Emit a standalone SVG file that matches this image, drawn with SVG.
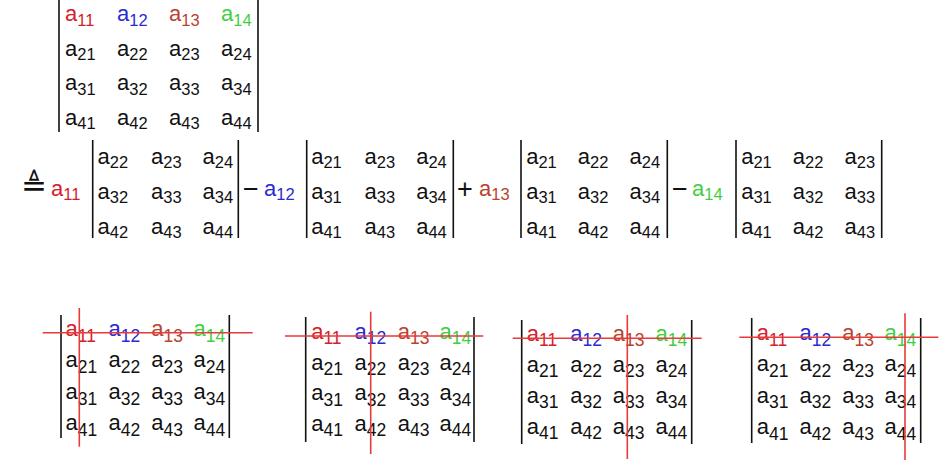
<svg xmlns="http://www.w3.org/2000/svg" width="943" height="472" viewBox="0 0 943 472">
<style>
text{font-family:"Liberation Sans","DejaVu Sans",sans-serif;font-size:22px;fill:#111}
.s{font-size:16.5px}
.b .s{font-size:17.5px}
.op{font-size:27px}
.r{fill:#d4212b}.u{fill:#2a2ad0}.o{fill:#b8432f}.g{fill:#3fcf3f}
.bar{stroke:#111;stroke-width:1.6}
.x{stroke:#e83a3a;stroke-width:1.6}
</style>
<rect width="943" height="472" fill="#fff"/>

<g id="top">
<line class="bar" x1="59" y1="0" x2="59" y2="132"/><line class="bar" x1="258" y1="0" x2="258" y2="132"/>
<text x="65" y="21" class="r">a<tspan class="s r" dy="4.5">11</tspan></text>
<text x="117" y="21" class="u">a<tspan class="s u" dy="4.5">12</tspan></text>
<text x="169" y="21" class="o">a<tspan class="s o" dy="4.5">13</tspan></text>
<text x="221" y="21" class="g">a<tspan class="s g" dy="4.5">14</tspan></text>
<text x="65" y="55.5">a<tspan class="s" dy="4.5">21</tspan></text>
<text x="117" y="55.5">a<tspan class="s" dy="4.5">22</tspan></text>
<text x="169" y="55.5">a<tspan class="s" dy="4.5">23</tspan></text>
<text x="221" y="55.5">a<tspan class="s" dy="4.5">24</tspan></text>
<text x="65" y="90">a<tspan class="s" dy="4.5">31</tspan></text>
<text x="117" y="90">a<tspan class="s" dy="4.5">32</tspan></text>
<text x="169" y="90">a<tspan class="s" dy="4.5">33</tspan></text>
<text x="221" y="90">a<tspan class="s" dy="4.5">34</tspan></text>
<text x="65" y="124.5">a<tspan class="s" dy="4.5">41</tspan></text>
<text x="117" y="124.5">a<tspan class="s" dy="4.5">42</tspan></text>
<text x="169" y="124.5">a<tspan class="s" dy="4.5">43</tspan></text>
<text x="221" y="124.5">a<tspan class="s" dy="4.5">44</tspan></text>
</g>

<g id="expansion">
<text x="21" y="196" style="font-family:'DejaVu Sans',sans-serif;font-size:31px;font-weight:200">≜</text>
<text x="51" y="196" class="r">a<tspan class="s r" dy="3.5">11</tspan></text>
<text x="243" y="198" class="op">−</text>
<text x="264" y="196" class="u">a<tspan class="s u" dy="3.5">12</tspan></text>
<text x="457" y="198" class="op">+</text>
<text x="479" y="196" class="o">a<tspan class="s o" dy="3.5">13</tspan></text>
<text x="672" y="198" class="op">−</text>
<text x="692" y="196" class="g">a<tspan class="s g" dy="3.5">14</tspan></text>
</g>

<g id="minor11">
<line class="bar" x1="92.7" y1="140" x2="92.7" y2="238"/><line class="bar" x1="238.3" y1="140" x2="238.3" y2="238"/>
<text x="97.5" y="164">a<tspan class="s" dy="3.5">22</tspan></text>
<text x="151" y="164">a<tspan class="s" dy="3.5">23</tspan></text>
<text x="202.5" y="164">a<tspan class="s" dy="3.5">24</tspan></text>
<text x="97.5" y="199">a<tspan class="s" dy="3.5">32</tspan></text>
<text x="151" y="199">a<tspan class="s" dy="3.5">33</tspan></text>
<text x="202.5" y="199">a<tspan class="s" dy="3.5">34</tspan></text>
<text x="97.5" y="234">a<tspan class="s" dy="3.5">42</tspan></text>
<text x="151" y="234">a<tspan class="s" dy="3.5">43</tspan></text>
<text x="202.5" y="234">a<tspan class="s" dy="3.5">44</tspan></text>
</g>

<g id="minor12">
<line class="bar" x1="306.7" y1="140" x2="306.7" y2="238"/><line class="bar" x1="453.3" y1="140" x2="453.3" y2="238"/>
<text x="311.2" y="164">a<tspan class="s" dy="3.5">21</tspan></text>
<text x="364.5" y="164">a<tspan class="s" dy="3.5">23</tspan></text>
<text x="416.2" y="164">a<tspan class="s" dy="3.5">24</tspan></text>
<text x="311.2" y="199">a<tspan class="s" dy="3.5">31</tspan></text>
<text x="364.5" y="199">a<tspan class="s" dy="3.5">33</tspan></text>
<text x="416.2" y="199">a<tspan class="s" dy="3.5">34</tspan></text>
<text x="311.2" y="234">a<tspan class="s" dy="3.5">41</tspan></text>
<text x="364.5" y="234">a<tspan class="s" dy="3.5">43</tspan></text>
<text x="416.2" y="234">a<tspan class="s" dy="3.5">44</tspan></text>
</g>

<g id="minor13">
<line class="bar" x1="521" y1="140" x2="521" y2="238"/><line class="bar" x1="667.3" y1="140" x2="667.3" y2="238"/>
<text x="526.2" y="164">a<tspan class="s" dy="3.5">21</tspan></text>
<text x="577.8" y="164">a<tspan class="s" dy="3.5">22</tspan></text>
<text x="629.5" y="164">a<tspan class="s" dy="3.5">24</tspan></text>
<text x="526.2" y="199">a<tspan class="s" dy="3.5">31</tspan></text>
<text x="577.8" y="199">a<tspan class="s" dy="3.5">32</tspan></text>
<text x="629.5" y="199">a<tspan class="s" dy="3.5">34</tspan></text>
<text x="526.2" y="234">a<tspan class="s" dy="3.5">41</tspan></text>
<text x="577.8" y="234">a<tspan class="s" dy="3.5">42</tspan></text>
<text x="629.5" y="234">a<tspan class="s" dy="3.5">44</tspan></text>
</g>

<g id="minor14">
<line class="bar" x1="736" y1="140" x2="736" y2="238"/><line class="bar" x1="881.7" y1="140" x2="881.7" y2="238"/>
<text x="741.2" y="164">a<tspan class="s" dy="3.5">21</tspan></text>
<text x="792.8" y="164">a<tspan class="s" dy="3.5">22</tspan></text>
<text x="844.5" y="164">a<tspan class="s" dy="3.5">23</tspan></text>
<text x="741.2" y="199">a<tspan class="s" dy="3.5">31</tspan></text>
<text x="792.8" y="199">a<tspan class="s" dy="3.5">32</tspan></text>
<text x="844.5" y="199">a<tspan class="s" dy="3.5">33</tspan></text>
<text x="741.2" y="234">a<tspan class="s" dy="3.5">41</tspan></text>
<text x="792.8" y="234">a<tspan class="s" dy="3.5">42</tspan></text>
<text x="844.5" y="234">a<tspan class="s" dy="3.5">43</tspan></text>
</g>

<g id="strike1" class="b">
<line class="bar" x1="61" y1="315" x2="61" y2="438"/><line class="bar" x1="229.3" y1="315" x2="229.3" y2="438"/>
<text x="65.5" y="336" class="r">a<tspan class="s r" dy="5.5">11</tspan></text>
<text x="108.5" y="336" class="u">a<tspan class="s u" dy="5.5">12</tspan></text>
<text x="151.2" y="336" class="o">a<tspan class="s o" dy="5.5">13</tspan></text>
<text x="193.5" y="336" class="g">a<tspan class="s g" dy="5.5">14</tspan></text>
<text x="65.5" y="367">a<tspan class="s" dy="5.5">21</tspan></text>
<text x="108.5" y="367">a<tspan class="s" dy="5.5">22</tspan></text>
<text x="151.2" y="367">a<tspan class="s" dy="5.5">23</tspan></text>
<text x="193.5" y="367">a<tspan class="s" dy="5.5">24</tspan></text>
<text x="65.5" y="399">a<tspan class="s" dy="5.5">31</tspan></text>
<text x="108.5" y="399">a<tspan class="s" dy="5.5">32</tspan></text>
<text x="151.2" y="399">a<tspan class="s" dy="5.5">33</tspan></text>
<text x="193.5" y="399">a<tspan class="s" dy="5.5">34</tspan></text>
<text x="65.5" y="430">a<tspan class="s" dy="5.5">41</tspan></text>
<text x="108.5" y="430">a<tspan class="s" dy="5.5">42</tspan></text>
<text x="151.2" y="430">a<tspan class="s" dy="5.5">43</tspan></text>
<text x="193.5" y="430">a<tspan class="s" dy="5.5">44</tspan></text>
</g>

<g id="strike2" class="b">
<line class="bar" x1="305.7" y1="317" x2="305.7" y2="442"/><line class="bar" x1="474" y1="317" x2="474" y2="442"/>
<text x="311.2" y="338.5" class="r">a<tspan class="s r" dy="5.5">11</tspan></text>
<text x="354.5" y="338.5" class="u">a<tspan class="s u" dy="5.5">12</tspan></text>
<text x="397.8" y="338.5" class="o">a<tspan class="s o" dy="5.5">13</tspan></text>
<text x="439.5" y="338.5" class="g">a<tspan class="s g" dy="5.5">14</tspan></text>
<text x="311.2" y="369.5">a<tspan class="s" dy="5.5">21</tspan></text>
<text x="354.5" y="369.5">a<tspan class="s" dy="5.5">22</tspan></text>
<text x="397.8" y="369.5">a<tspan class="s" dy="5.5">23</tspan></text>
<text x="439.5" y="369.5">a<tspan class="s" dy="5.5">24</tspan></text>
<text x="311.2" y="400">a<tspan class="s" dy="5.5">31</tspan></text>
<text x="354.5" y="400">a<tspan class="s" dy="5.5">32</tspan></text>
<text x="397.8" y="400">a<tspan class="s" dy="5.5">33</tspan></text>
<text x="439.5" y="400">a<tspan class="s" dy="5.5">34</tspan></text>
<text x="311.2" y="430.5">a<tspan class="s" dy="5.5">41</tspan></text>
<text x="354.5" y="430.5">a<tspan class="s" dy="5.5">42</tspan></text>
<text x="397.8" y="430.5">a<tspan class="s" dy="5.5">43</tspan></text>
<text x="439.5" y="430.5">a<tspan class="s" dy="5.5">44</tspan></text>
</g>

<g id="strike3" class="b">
<line class="bar" x1="521.7" y1="320" x2="521.7" y2="444"/><line class="bar" x1="691.7" y1="320" x2="691.7" y2="444"/>
<text x="526.8" y="340.5" class="r">a<tspan class="s r" dy="5.5">11</tspan></text>
<text x="570.2" y="340.5" class="u">a<tspan class="s u" dy="5.5">12</tspan></text>
<text x="612.8" y="340.5" class="o">a<tspan class="s o" dy="5.5">13</tspan></text>
<text x="655.5" y="340.5" class="g">a<tspan class="s g" dy="5.5">14</tspan></text>
<text x="526.8" y="371.5">a<tspan class="s" dy="5.5">21</tspan></text>
<text x="570.2" y="371.5">a<tspan class="s" dy="5.5">22</tspan></text>
<text x="612.8" y="371.5">a<tspan class="s" dy="5.5">23</tspan></text>
<text x="655.5" y="371.5">a<tspan class="s" dy="5.5">24</tspan></text>
<text x="526.8" y="402.5">a<tspan class="s" dy="5.5">31</tspan></text>
<text x="570.2" y="402.5">a<tspan class="s" dy="5.5">32</tspan></text>
<text x="612.8" y="402.5">a<tspan class="s" dy="5.5">33</tspan></text>
<text x="655.5" y="402.5">a<tspan class="s" dy="5.5">34</tspan></text>
<text x="526.8" y="433.5">a<tspan class="s" dy="5.5">41</tspan></text>
<text x="570.2" y="433.5">a<tspan class="s" dy="5.5">42</tspan></text>
<text x="612.8" y="433.5">a<tspan class="s" dy="5.5">43</tspan></text>
<text x="655.5" y="433.5">a<tspan class="s" dy="5.5">44</tspan></text>
</g>

<g id="strike4" class="b">
<line class="bar" x1="751.7" y1="318" x2="751.7" y2="443"/><line class="bar" x1="920.7" y1="318" x2="920.7" y2="443"/>
<text x="756.8" y="340" class="r">a<tspan class="s r" dy="5.5">11</tspan></text>
<text x="799.5" y="340" class="u">a<tspan class="s u" dy="5.5">12</tspan></text>
<text x="842.2" y="340" class="o">a<tspan class="s o" dy="5.5">13</tspan></text>
<text x="884.5" y="340" class="g">a<tspan class="s g" dy="5.5">14</tspan></text>
<text x="756.8" y="371">a<tspan class="s" dy="5.5">21</tspan></text>
<text x="799.5" y="371">a<tspan class="s" dy="5.5">22</tspan></text>
<text x="842.2" y="371">a<tspan class="s" dy="5.5">23</tspan></text>
<text x="884.5" y="371">a<tspan class="s" dy="5.5">24</tspan></text>
<text x="756.8" y="402.5">a<tspan class="s" dy="5.5">31</tspan></text>
<text x="799.5" y="402.5">a<tspan class="s" dy="5.5">32</tspan></text>
<text x="842.2" y="402.5">a<tspan class="s" dy="5.5">33</tspan></text>
<text x="884.5" y="402.5">a<tspan class="s" dy="5.5">34</tspan></text>
<text x="756.8" y="434">a<tspan class="s" dy="5.5">41</tspan></text>
<text x="799.5" y="434">a<tspan class="s" dy="5.5">42</tspan></text>
<text x="842.2" y="434">a<tspan class="s" dy="5.5">43</tspan></text>
<text x="884.5" y="434">a<tspan class="s" dy="5.5">44</tspan></text>
</g>

<g id="connectors">
<line class="x" x1="42.7" y1="332.7" x2="252.7" y2="332.7"/><line class="x" x1="79.3" y1="308" x2="79.3" y2="446.7"/>
<line class="x" x1="285" y1="336" x2="483.3" y2="336"/><line class="x" x1="370.7" y1="311.7" x2="370.7" y2="454"/>
<line class="x" x1="512.7" y1="338.3" x2="701.7" y2="338.3"/><line class="x" x1="627.3" y1="315" x2="627.3" y2="459"/>
<line class="x" x1="739.3" y1="337.3" x2="938.3" y2="337.3"/><line class="x" x1="905" y1="313.3" x2="905" y2="460"/>
</g>
</svg>
